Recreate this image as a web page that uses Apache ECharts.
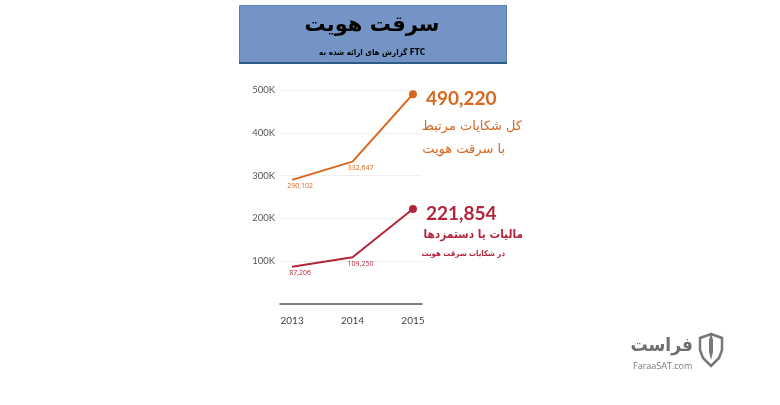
<!DOCTYPE html>
<html><head><meta charset="utf-8">
<script src="https://cdn.jsdelivr.net/npm/echarts@6/dist/echarts.min.js"></script>
<style>html,body{margin:0;padding:0;background:#fff}#c{width:780px;height:405px}</style>
</head><body><div id="c"></div>
<script>
const years = [2013, 2014, 2015];
const totalComplaints = [290102, 332647, 490220];
const taxWage = [87206, 109250, 221854];
const yTicks = [100000, 200000, 300000, 400000, 500000];
const titleText = 'سرقت هویت';
const subtitleText = 'گزارش های ارائه شده به FTC';
const totalLines = ['کل شکایات مرتبط', 'با سرقت هویت'];
const taxLines = ['مالیات یا دستمزدها', 'در شکایات سرقت هویت'];

const ORANGE = '#d8661e', RED = '#b3253a';
const AR = '"DejaVu Sans", sans-serif';
const ARC = '"DejaVu Sans Condensed", "DejaVu Sans", sans-serif';
const fmt = v => v.toLocaleString('en-US');

function mkData(vals, color) {
  return vals.map((v, i) => {
    const last = i === vals.length - 1;
    return {
      value: [years[i], v],
      symbolSize: last ? 8 : 0,
      label: last ? {
        show: true, position: 'right', distance: 9, offset: [0, 5],
        formatter: p => fmt(p.value[1]),
        fontSize: 19, fontWeight: 'bold', color: color, fontFamily: 'Lato, "Open Sans", sans-serif'
      } : {
        show: true, position: 'bottom', distance: 3, offset: [8, 0],
        formatter: p => fmt(p.value[1]),
        fontSize: 7, color: color, fontFamily: '"Open Sans", sans-serif'
      }
    };
  });
}

const chart = echarts.init(document.getElementById('c'), null, {renderer: 'canvas'});
chart.setOption({
  backgroundColor: '#fff',
  animation: false,
  grid: {left: 280, right: 358, top: 90, bottom: 101},
  xAxis: {
    type: 'value', min: 2012.8, max: 2015.15,
    axisLine: {show: true, lineStyle: {color: '#555', width: 1.5}},
    axisTick: {show: false},
    splitLine: {show: false},
    axisLabel: {customValues: years, formatter: v => String(v), margin: 12,
      color: '#444', fontSize: 10, fontFamily: 'Lato, "Open Sans", sans-serif'}
  },
  yAxis: {
    type: 'value', min: 0, max: 500000, interval: 100000,
    axisLine: {show: false}, axisTick: {show: false},
    splitLine: {show: true, lineStyle: {color: '#efefef', width: 1}},
    axisLabel: {margin: 5, color: '#555', fontSize: 9.5, fontFamily: 'Lato, "Open Sans", sans-serif',
      formatter: v => (yTicks.includes(v) ? (v / 1000) + 'K' : '')}
  },
  series: [
    {type: 'line', data: mkData(totalComplaints, ORANGE), symbol: 'circle', showAllSymbol: true,
      lineStyle: {color: ORANGE, width: 2}, itemStyle: {color: ORANGE}},
    {type: 'line', data: mkData(taxWage, RED), symbol: 'circle', showAllSymbol: true,
      lineStyle: {color: RED, width: 2}, itemStyle: {color: RED}}
  ],
  graphic: [
    {type: 'rect', shape: {x: 239.5, y: 5.5, width: 267, height: 57},
      style: {fill: '#7394c4', stroke: '#5f7fae', lineWidth: 1}},
    {type: 'rect', shape: {x: 239, y: 62, width: 268, height: 2}, style: {fill: '#2c5d84'}},
    {type: 'text', x: 372, y: 26, style: {text: titleText, fontSize: 21, fontWeight: 'bold', fill: '#000',
      fontFamily: AR, align: 'center', verticalAlign: 'middle'}},
    {type: 'text', x: 372, y: 53, style: {text: subtitleText, fontSize: 8, fontWeight: 'bold', fill: '#000',
      fontFamily: ARC, align: 'center', verticalAlign: 'middle'}},
    {type: 'text', x: 522, y: 127, style: {text: totalLines[0], fontSize: 13, fill: ORANGE,
      fontFamily: AR, align: 'right', verticalAlign: 'middle'}},
    {type: 'text', x: 505, y: 150, style: {text: totalLines[1], fontSize: 13, fill: ORANGE,
      fontFamily: AR, align: 'right', verticalAlign: 'middle'}},
    {type: 'text', x: 523, y: 235, style: {text: taxLines[0], fontSize: 11.8, fontWeight: 'bold', fill: RED,
      fontFamily: ARC, align: 'right', verticalAlign: 'middle'}},
    {type: 'text', x: 505, y: 254, style: {text: taxLines[1], fontSize: 7.8, fontWeight: 'bold', fill: RED,
      fontFamily: ARC, align: 'right', verticalAlign: 'middle'}},
    // logo
    {type: 'polygon', shape: {points: [[711,334],[722,338],[722,350],[719,358],[711,366],[703,358],[700,350],[700,338]]},
      style: {fill: 'none', stroke: '#777', lineWidth: 2.5}},
    {type: 'polygon', shape: {points: [[711,332],[713,340],[713,352],[711,360],[709,352],[709,340]]},
      style: {fill: '#777'}},
    {type: 'text', x: 693, y: 346, style: {text: 'فراست', fontSize: 19, fontWeight: 'bold', fill: '#6f6f6f',
      fontFamily: ARC, align: 'right', verticalAlign: 'middle'}},
    {type: 'text', x: 633, y: 366, style: {text: 'FaraaSAT.com', fontSize: 9, fill: '#777',
      fontFamily: '"Open Sans", sans-serif', align: 'left', verticalAlign: 'middle'}}
  ]
});
</script></body></html>
